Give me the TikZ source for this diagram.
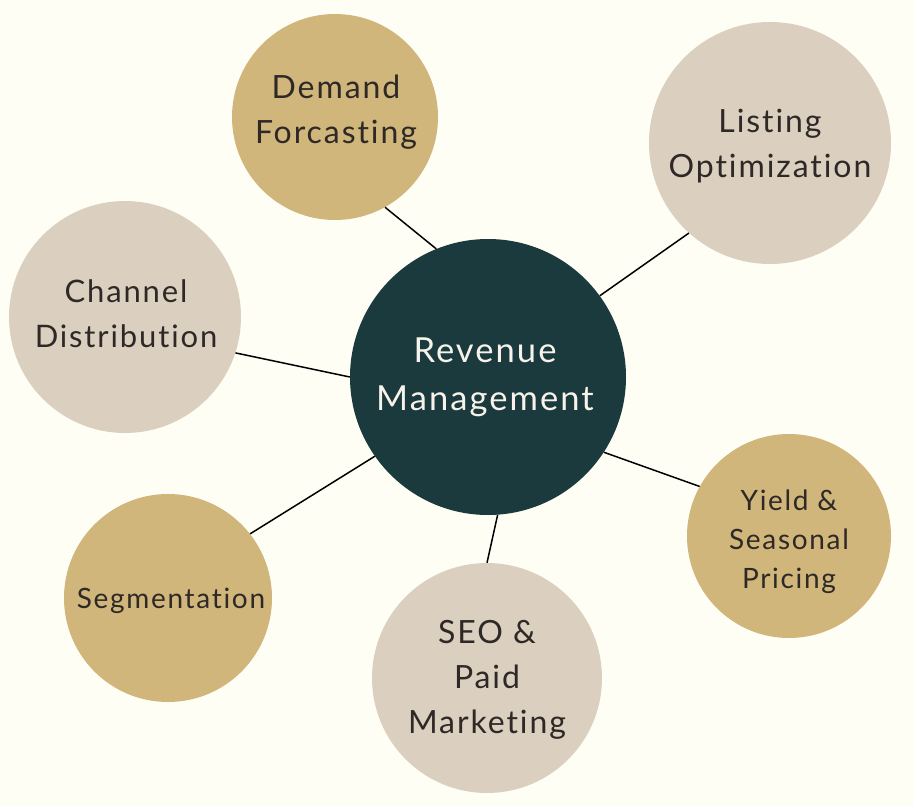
\documentclass[tikz,border=0pt]{standalone}
\usepackage{fontspec}
\setmainfont{Lato}[LetterSpace=6,Ligatures=NoCommon]
\definecolor{bgc}{HTML}{FFFEF5}
\definecolor{goldc}{HTML}{D0B67B}
\definecolor{beigec}{HTML}{DBD0BF}
\definecolor{tealc}{HTML}{1B3A3E}
\definecolor{inkc}{HTML}{2E2926}
\definecolor{creamc}{HTML}{F7F3EA}
\begin{document}
\begin{tikzpicture}[x=1pt,y=-1pt,
  bubble/.style={circle,inner sep=0pt,draw=none},
  goldb/.style={bubble,fill=goldc},
  beigeb/.style={bubble,fill=beigec},
  hubb/.style={bubble,fill=tealc},
  lbl/.style={align=center,inner sep=0pt,text=inkc},
  big/.style={font=\fontsize{34.5}{48}\selectfont},
  mid/.style={font=\fontsize{32}{45}\selectfont},
  midless/.style={font=\fontsize{31}{45}\selectfont},
  small/.style={font=\fontsize{28}{39}\selectfont},
  link/.style={draw=black,line width=1.5pt}]
\fill[bgc] (0,0) rectangle (914,806);
\useasboundingbox (0,0) rectangle (914,806);
% circles
\node[hubb,minimum size=276pt] (rm) at (488,377) {};
\node[goldb,minimum size=206pt] (df) at (335,117) {};
\node[beigeb,minimum size=242pt] (lo) at (770,143) {};
\node[beigeb,minimum size=232pt] (cd) at (125,317) {};
\node[goldb,minimum size=208pt] (sg) at (168,598) {};
\node[beigeb,minimum size=230pt] (seo) at (487,678) {};
\node[goldb,minimum size=204pt] (yp) at (789,536) {};
% connectors
\draw[link] (rm.112) -- (df.-61);
\draw[link] (rm.36) -- (lo.228);
\draw[link] (rm.180) -- (cd.-18);
\draw[link] (rm.215) -- (sg.38);
\draw[link] (rm.-86) -- (seo.90);
\draw[link] (rm.-33) -- (yp.151);
% labels
\node[lbl,big,text=creamc] (rmT) at (485,377) {Revenue\\Management};
\node[lbl,mid] (dfT) at (336,112) {Demand\\Forcasting};
\node[lbl,mid] (loT) at (770,146) {Listing\\Optimization};
\node[lbl,midless] (cdT) at (126,314) {Channel\\Distribution};
\node[lbl,small] (sgT) at (171,601) {Segmentation};
\node[lbl,mid] (seoT) at (487,680) {SEO \&\\Paid\\Marketing};
\node[lbl,small] (ypT) at (789,542) {Yield \&\\Seasonal\\Pricing};
\end{tikzpicture}
\end{document}
